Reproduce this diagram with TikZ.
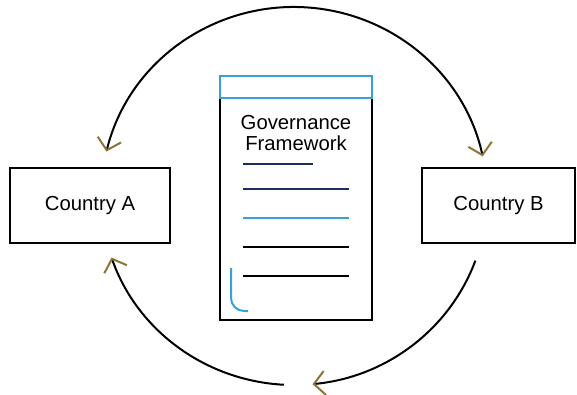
\documentclass[tikz,border=0pt]{standalone}
\usepackage{fontspec}
\setmainfont{Liberation Sans}
\usetikzlibrary{arrows.meta,calc}
\definecolor{docblue}{HTML}{38A2D8}
\definecolor{docnavy}{HTML}{1C2F5C}
\definecolor{arrowgold}{HTML}{8C7536}
\tikzset{
  countrybox/.style={draw=black, line width=2pt, minimum width=#1, minimum height=75pt, inner sep=0pt, font=\fontsize{20.3}{22}\selectfont},
  flowline/.style={draw=black, line width=2pt},
  gtip/.tip={Straight Barb[length=11pt,width=24pt,color=arrowgold,line width=2pt]},
  docline/.style={line width=2pt},
}
\begin{document}
\begin{tikzpicture}[x=1pt,y=-1pt]
\useasboundingbox (0,0) rectangle (577,394);
% countries
\node[countrybox=160pt] (A) at (90,205.5) {Country A};
\node[countrybox=153pt] (B) at (498.5,205.5) {Country B};
% document
\node[draw=black, line width=2pt, minimum width=152pt, minimum height=244pt, inner sep=0pt] (doc) at (296,198) {};
\node[draw=docblue, line width=2pt, minimum width=152pt, minimum height=22pt, inner sep=0pt, anchor=north] (hdr) at (doc.north) {};
\node[align=center, font=\fontsize{20.3}{21}\selectfont, anchor=center] (title) at (296,133) {Governance\\Framework};
\draw[docline, docnavy] (243,164) -- (313,164);
\draw[docline, docnavy] (243,189) -- (349,189);
\draw[docline, docblue] (243,218) -- (349,218);
\draw[docline, black] (243,247) -- (349,247);
\draw[docline, black] (243,276) -- (349,276);
\draw[docline, docblue, rounded corners=13pt] (231,268) -- (231,311) -- (248,311);
% connectors
\coordinate (c) at (294,196);
\draw[flowline, gtip-gtip] ($(c)+(193.6:193 and 189)$) arc[start angle=193.6, end angle=347.9, x radius=193, y radius=189];
\draw[flowline, -gtip] ($(c)+(20:193 and 189)$) arc[start angle=20, end angle=84.5, x radius=193, y radius=189];
\draw[flowline, -gtip] ($(c)+(93:193 and 189)$) arc[start angle=93, end angle=161, x radius=193, y radius=189];
\end{tikzpicture}
\end{document}
